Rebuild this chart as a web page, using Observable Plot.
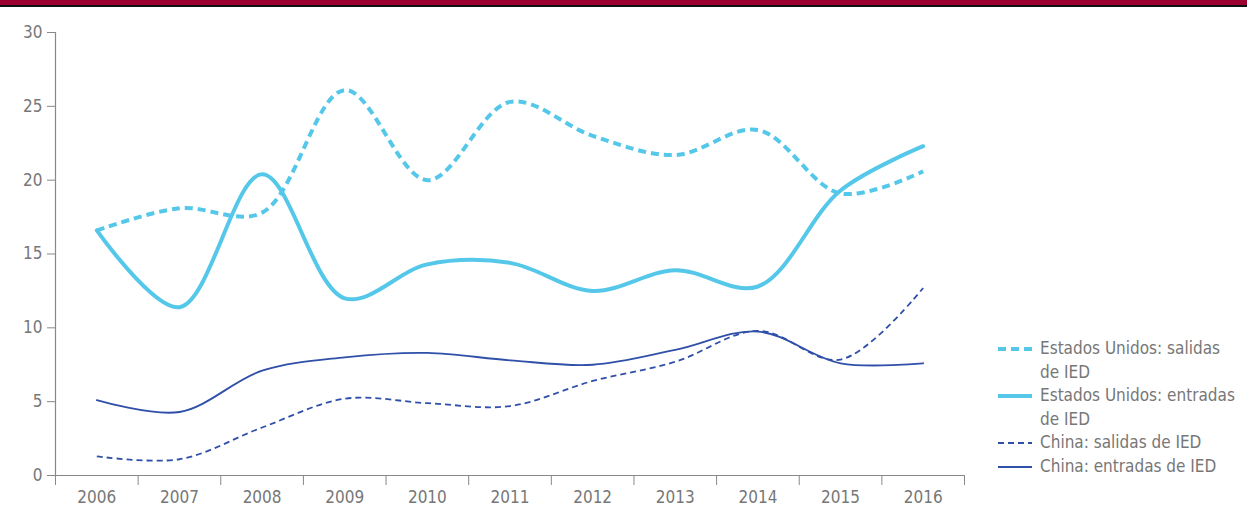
<!DOCTYPE html>
<html><head><meta charset="utf-8">
<script src="https://cdn.jsdelivr.net/npm/d3@7"></script>
<script src="https://cdn.jsdelivr.net/npm/@observablehq/plot@0.6"></script>
<style>
body{margin:0;background:#fff;font-family:"Liberation Sans Narrow","DejaVu Sans Condensed",sans-serif;}
#bar{height:5px;background:#9b0030;border-bottom:2px solid #111;}
#wrap{position:relative;width:1247px;height:503px;}
#legend{position:absolute;left:997px;top:330px;color:#777;font-size:17px;line-height:23.5px;}
#legend .row{display:flex;align-items:flex-start;}
#legend svg{flex:none;margin-top:5px;margin-right:7px;}
</style></head>
<body>
<div id="bar"></div>
<div id="wrap"><div id="chart"></div><div id="legend"></div></div>
<script>
const years = ["2006","2007","2008","2009","2010","2011","2012","2013","2014","2015","2016"];
const usSalidas  = [16.6, 18.1, 17.8, 26.1, 20.0, 25.3, 23.0, 21.7, 23.4, 19.1, 20.6];
const usEntradas = [16.6, 11.4, 20.4, 12.0, 14.3, 14.4, 12.5, 13.9, 12.8, 19.3, 22.3];
const chSalidas  = [1.3, 1.1, 3.25, 5.2, 4.9, 4.7, 6.4, 7.7, 9.8, 7.85, 12.7];
const chEntradas = [5.1, 4.3, 7.1, 8.0, 8.3, 7.8, 7.5, 8.5, 9.75, 7.6, 7.6];
const yTicks = [0, 5, 10, 15, 20, 25, 30];

const series = [
  {lines: ["Estados Unidos: salidas", "de IED"], values: usSalidas, color: "#55c8ea", width: 4, dash: "8,5"},
  {lines: ["Estados Unidos: entradas", "de IED"], values: usEntradas, color: "#55c8ea", width: 4, dash: null},
  {lines: ["China: salidas de IED"], values: chSalidas, color: "#2f4fa8", width: 1.8, dash: "6,4"},
  {lines: ["China: entradas de IED"], values: chEntradas, color: "#2f4fa8", width: 1.8, dash: null}
];

const marks = [
  Plot.ruleY([0], {stroke: "#888", strokeWidth: 1.2}),
  Plot.ruleX([0], {stroke: "#888", strokeWidth: 1.2}),
  Plot.axisY(yTicks, {anchor: "left", tickSize: 8, tickPadding: 5, stroke: "#888", color: "#777", fontSize: 17, label: null}),
  Plot.axisX(d3.range(years.length + 1), {anchor: "bottom", tickSize: 10, stroke: "#888", text: () => "", label: null}),
  Plot.axisX(years.map((y, i) => i + 0.5), {anchor: "bottom", tickSize: 0, tickPadding: 15, color: "#777", fontSize: 17, tickFormat: d => years[Math.floor(d)], label: null})
];
for (const s of series) {
  const data = years.map((y, i) => ({i: i + 0.5, v: s.values[i]}));
  marks.push(Plot.line(data, {x: "i", y: "v", stroke: s.color, strokeWidth: s.width, strokeDasharray: s.dash, curve: "catmull-rom", strokeLinecap: s.dash ? "butt" : "round"}));
}

const chart = Plot.plot({
  width: 1247, height: 503,
  marginLeft: 55, marginRight: 283, marginTop: 25, marginBottom: 35,
  style: {fontFamily: '"Liberation Sans Narrow","DejaVu Sans Condensed",sans-serif', fontSize: "17px", color: "#777"},
  x: {domain: [0, years.length], axis: null},
  y: {domain: [0, 30], axis: null},
  marks
});
document.getElementById("chart").appendChild(chart);

const leg = document.getElementById("legend");
for (const s of series) {
  const row = document.createElement("div");
  row.className = "row";
  row.innerHTML = `<svg width="36" height="14"><line x1="1" x2="35" y1="7" y2="7" stroke="${s.color}" stroke-width="${s.width}" ${s.dash ? `stroke-dasharray="${s.dash}"` : ""}/></svg><div>${s.lines.join("<br>")}</div>`;
  leg.appendChild(row);
}
</script>
</body></html>
